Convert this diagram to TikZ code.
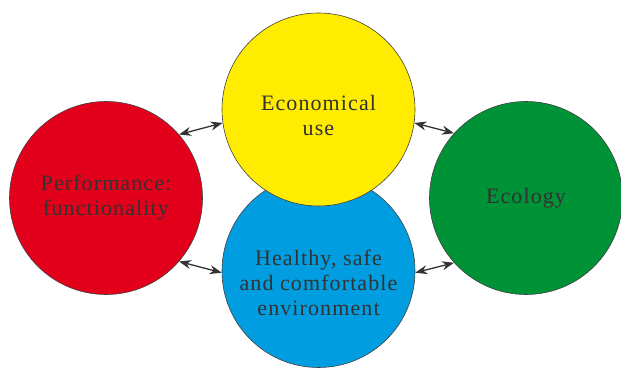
\documentclass[tikz,border=0pt]{standalone}
\usepackage{fontspec}
\setmainfont{Liberation Serif}
\usetikzlibrary{positioning}
\usetikzlibrary{arrows.meta}
\definecolor{ecored}{RGB}{226,0,26}
\definecolor{ecoyellow}{RGB}{255,236,0}
\definecolor{ecogreen}{RGB}{0,146,54}
\definecolor{ecoblue}{RGB}{0,158,224}
\definecolor{txtgray}{RGB}{50,50,50}

\begin{document}
\begin{tikzpicture}[x=1pt,y=1pt,
	ball/.style={circle,draw=black!75,line width=0.6pt,minimum size=193pt,inner sep=0pt},
	lbl/.style={text=txtgray,align=center,inner sep=0pt,
		font=\fontsize{22}{25}\selectfont\addfontfeature{LetterSpace=5}},
	link/.style={{Stealth[length=12pt,width=9pt]}-{Stealth[length=12pt,width=9pt]},
		line width=1.3pt,draw=black!80}]
	%% frame of the picture
	\useasboundingbox (0,0) rectangle (621,369);

	%% the four circles, blue first so yellow lies on it
	\node[ball,fill=ecoblue] (blue) at (318.5,98) {};
	\node[ball,fill=ecoyellow] (yellow) at (318.5,259.5) {};
	\node[ball,fill=ecored] (red) at (106,171) {};
	\node[ball,fill=ecogreen] (green) at (526,171) {};

	%% texts
	\node[lbl] (redtxt) at (red.center) {Performance:\\functionality};
	\node[lbl] (yellowtxt) at ([yshift=-6pt]yellow.center) {Economical\\use};
	\node[lbl] (greentxt) at (green.center) {Ecology};
	\node[lbl] (bluetxt) at ([yshift=-12pt]blue.center) {Healthy, safe\\and comfortable\\environment};

	%% links
	\draw[link] (red.41) -- (yellow.188.5);
	\draw[link] (yellow.-8.5) -- (green.138);
	\draw[link] (red.-41) -- (blue.181);
	\draw[link] (blue.-1) -- (green.222.5);
\end{tikzpicture}
\end{document}
